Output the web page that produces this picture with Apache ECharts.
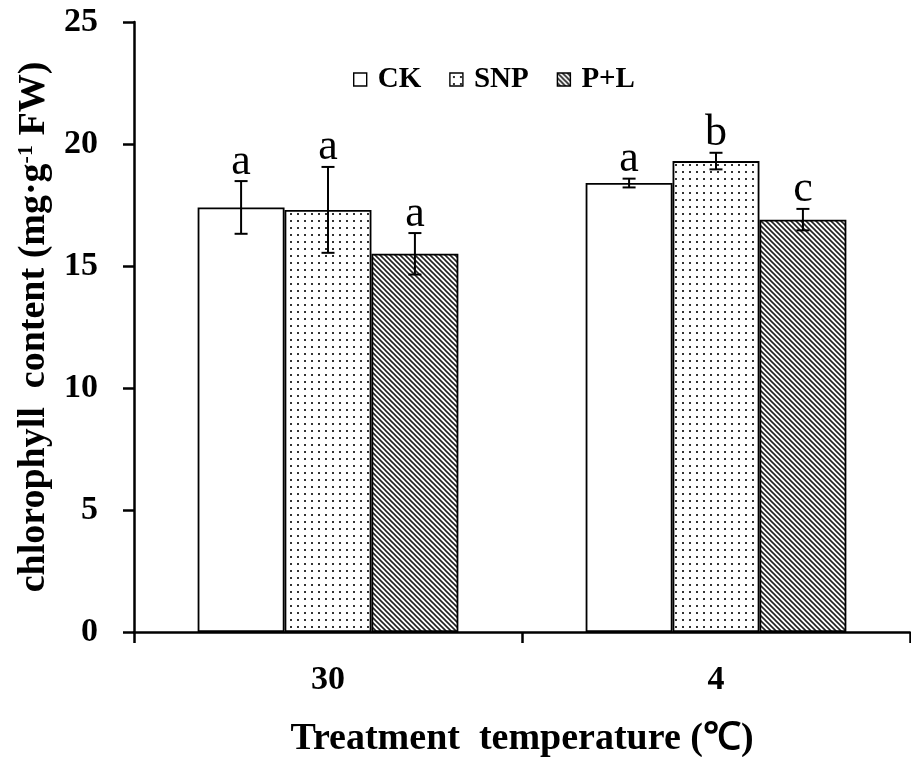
<!DOCTYPE html>
<html>
<head>
<meta charset="utf-8">
<script src="https://cdn.jsdelivr.net/npm/echarts@6/dist/echarts.min.js"></script>
<style>
  html, body { margin: 0; padding: 0; background: #fff; }
  #main { width: 911px; height: 757px; }
</style>
</head>
<body>
<div id="main"></div>
<script>
// data
var categories = ['30', '4'];
var seriesNames = ['CK', 'SNP', 'P+L'];
var ckValues = [17.4, 18.4];
var ckErrors = [1.08, 0.18];
var snpValues = [17.3, 19.3];
var snpErrors = [1.76, 0.34];
var plValues = [15.5, 16.9];
var plErrors = [0.85, 0.44];
var ckLetters = ['a', 'a'];
var snpLetters = ['a', 'b'];
var plLetters = ['a', 'c'];
var yTicks = [0, 5, 10, 15, 20, 25];

var serif = "'Times New Roman', 'Liberation Serif', serif";
var BAR_FRAC = 0.224;

// fill patterns
function dotPattern() {
  var c = document.createElement('canvas');
  c.width = 7; c.height = 7;
  var ctx = c.getContext('2d');
  ctx.fillStyle = '#fff';
  ctx.fillRect(0, 0, 7, 7);
  ctx.fillStyle = '#333';
  ctx.fillRect(3, 3, 2, 2);
  return c;
}
function hatchPattern() {
  var s = 5;
  var c = document.createElement('canvas');
  c.width = s; c.height = s;
  var ctx = c.getContext('2d');
  ctx.fillStyle = '#fff';
  ctx.fillRect(0, 0, s, s);
  ctx.strokeStyle = '#222';
  ctx.lineWidth = 1.6;
  ctx.beginPath();
  ctx.moveTo(-1, -1); ctx.lineTo(s + 1, s + 1);
  ctx.moveTo(s - 1, -1); ctx.lineTo(s + 1, 1);
  ctx.moveTo(-1, s - 1); ctx.lineTo(1, s + 1);
  ctx.stroke();
  return c;
}

var fills = [
  '#ffffff',
  { image: dotPattern(), repeat: 'repeat' },
  { image: hatchPattern(), repeat: 'repeat' }
];
var values = [ckValues, snpValues, plValues];
var errors = [ckErrors, snpErrors, plErrors];
var letters = [ckLetters, snpLetters, plLetters];

var chart = echarts.init(document.getElementById('main'));

var series = [];
seriesNames.forEach(function (name, k) {
  series.push({
    name: name,
    type: 'bar',
    data: values[k],
    barWidth: (BAR_FRAC * 100) + '%',
    barGap: '0%',
    itemStyle: { color: fills[k], borderColor: '#000', borderWidth: 1.8 },
    emphasis: { disabled: true },
    z: 2
  });
});

var errData = [];
for (var k = 0; k < 3; k++) {
  for (var i = 0; i < categories.length; i++) {
    errData.push([i, values[k][i], errors[k][i], k]);
  }
}

series.push({
  type: 'custom',
  data: errData,
  encode: { x: 0, y: 1 },
  z: 5,
  silent: true,
  renderItem: function (params, api) {
    var cat = api.value(0), val = api.value(1), err = api.value(2), k = api.value(3);
    var catW = api.size([1, 0])[0];
    var bw = catW * BAR_FRAC;
    var x = api.coord([cat, val])[0] + (k - 1) * bw;
    var top = api.coord([cat, val + err])[1];
    var bot = api.coord([cat, val - err])[1];
    var cap = 6.5;
    var st = { stroke: '#000', lineWidth: 2 };
    return {
      type: 'group',
      children: [
        { type: 'line', shape: { x1: x, y1: top, x2: x, y2: bot }, style: st },
        { type: 'line', shape: { x1: x - cap, y1: top, x2: x + cap, y2: top }, style: st },
        { type: 'line', shape: { x1: x - cap, y1: bot, x2: x + cap, y2: bot }, style: st },
        {
          type: 'text',
          style: {
            x: x, y: top + 3,
            text: letters[k][cat],
            fill: '#000',
            font: '44px ' + serif,
            align: 'center',
            verticalAlign: 'bottom'
          }
        }
      ]
    };
  }
});

chart.setOption({
  backgroundColor: '#ffffff',
  animation: false,
  grid: { left: 134, right: 1, top: 22, bottom: 125, outerBoundsMode: 'none' },
  legend: {
    data: seriesNames,
    left: 348,
    top: 60,
    itemWidth: 13,
    itemHeight: 13,
    itemGap: 28,
    icon: 'rect',
    textStyle: { fontFamily: serif, fontWeight: 'bold', fontSize: 29, color: '#000', padding: [0, 0, 0, 6] },
    itemStyle: { borderColor: '#000', borderWidth: 1.4 }
  },
  xAxis: {
    type: 'category',
    data: categories,
    name: 'Treatment  temperature (℃)',
    nameLocation: 'middle',
    nameGap: 88,
    nameTextStyle: { fontFamily: serif, fontWeight: 'bold', fontSize: 38, color: '#000' },
    axisLine: { lineStyle: { color: '#000', width: 2.5 } },
    axisTick: { show: true, length: 11, lineStyle: { color: '#000', width: 2.5 } },
    axisLabel: { margin: 31, fontFamily: serif, fontWeight: 'bold', fontSize: 34, color: '#000' },
    splitLine: { show: false }
  },
  yAxis: {
    type: 'value',
    min: yTicks[0],
    max: yTicks[yTicks.length - 1],
    interval: 5,
    name: '{n|chlorophyll  content (mg·g}{s|-1}{n| FW)}',
    nameLocation: 'middle',
    nameRotate: 90,
    nameGap: 71,
    nameTextStyle: {
      rich: {
        n: { fontFamily: serif, fontWeight: 'bold', fontSize: 38, color: '#000' },
        s: { fontFamily: serif, fontWeight: 'bold', fontSize: 22, color: '#000', verticalAlign: 'top', padding: [0, 0, 16, 0] }
      }
    },
    axisLine: { show: true, lineStyle: { color: '#000', width: 2.5 } },
    axisTick: { show: true, length: 11, lineStyle: { color: '#000', width: 2.5 } },
    axisLabel: { margin: 36, fontFamily: serif, fontWeight: 'bold', fontSize: 34, color: '#000' },
    splitLine: { show: false }
  },
  series: series
});
</script>
</body>
</html>
